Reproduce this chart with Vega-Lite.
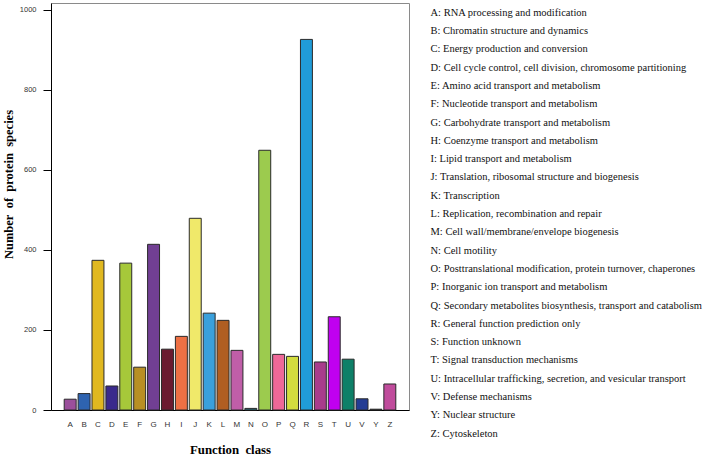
{
  "$schema": "https://vega.github.io/schema/vega-lite/v6.json",
  "autosize": {"type": "none"},
  "padding": {"left": 51, "top": 3, "right": 299, "bottom": 45},
  "width": 358,
  "height": 407,
  "background": "white",
  "config": {
    "view": {"stroke": "#8a8a8a", "strokeWidth": 1},
    "axis": {"grid": false}
  },
  "data": {
    "values": [
      {"cls": "A", "desc": "A: RNA processing and modification", "n": 27},
      {"cls": "B", "desc": "B: Chromatin structure and dynamics", "n": 41},
      {"cls": "C", "desc": "C: Energy production and conversion", "n": 374},
      {"cls": "D", "desc": "D: Cell cycle control, cell division, chromosome partitioning", "n": 60},
      {"cls": "E", "desc": "E: Amino acid transport and metabolism", "n": 367},
      {"cls": "F", "desc": "F: Nucleotide transport and metabolism", "n": 107},
      {"cls": "G", "desc": "G: Carbohydrate transport and metabolism", "n": 414},
      {"cls": "H", "desc": "H: Coenzyme transport and metabolism", "n": 152},
      {"cls": "I", "desc": "I: Lipid transport and metabolism", "n": 184},
      {"cls": "J", "desc": "J: Translation, ribosomal structure and biogenesis", "n": 479},
      {"cls": "K", "desc": "K: Transcription", "n": 242},
      {"cls": "L", "desc": "L: Replication, recombination and repair", "n": 224},
      {"cls": "M", "desc": "M: Cell wall/membrane/envelope biogenesis", "n": 149},
      {"cls": "N", "desc": "N: Cell motility", "n": 4},
      {"cls": "O", "desc": "O: Posttranslational modification, protein turnover, chaperones", "n": 649},
      {"cls": "P", "desc": "P: Inorganic ion transport and metabolism", "n": 139},
      {"cls": "Q", "desc": "Q: Secondary metabolites biosynthesis, transport and catabolism", "n": 134},
      {"cls": "R", "desc": "R: General function prediction only", "n": 926},
      {"cls": "S", "desc": "S: Function unknown", "n": 120},
      {"cls": "T", "desc": "T: Signal transduction mechanisms", "n": 233},
      {"cls": "U", "desc": "U: Intracellular trafficking, secretion, and vesicular transport", "n": 127},
      {"cls": "V", "desc": "V: Defense mechanisms", "n": 28},
      {"cls": "Y", "desc": "Y: Nuclear structure", "n": 2},
      {"cls": "Z", "desc": "Z: Cytoskeleton", "n": 65}
    ]
  },
  "mark": {"type": "bar", "stroke": "#2a2a2a", "strokeWidth": 1, "opacity": 1},
  "encoding": {
    "x": {
      "field": "cls", "type": "nominal", "sort": null,
      "scale": {"paddingInner": 0.14, "paddingOuter": 0.95},
      "axis": {
        "title": "Function\u00a0 class",
        "titleFont": "Liberation Serif", "titleFontSize": 12.8, "titleFontWeight": "bold", "titleColor": "#000",
        "titlePadding": 15,
        "labelAngle": 0, "labelFont": "Liberation Sans", "labelFontSize": 8, "labelColor": "#333",
        "labelPadding": 10, "ticks": false,
        "domainColor": "#000", "domainWidth": 1
      }
    },
    "y": {
      "field": "n", "type": "quantitative",
      "scale": {"domain": [0, 1017], "nice": false},
      "axis": {
        "title": "Number\u00a0 of\u00a0 protein\u00a0 species",
        "titleFont": "Liberation Serif", "titleFontSize": 12.5, "titleFontWeight": "bold", "titleColor": "#000",
        "titlePadding": 4, "titleY": 181,
        "values": [0, 200, 400, 600, 800, 1000], "format": "d",
        "labelFont": "Liberation Sans", "labelFontSize": 7.5, "labelColor": "#333",
        "labelPadding": 7, "tickSize": 8, "tickColor": "#000",
        "domainColor": "#000", "domainWidth": 1
      }
    },
    "color": {
      "field": "desc", "type": "nominal", "sort": null,
      "scale": {
        "range": ["#9b4f9c", "#2e63b0", "#e0b820", "#3a2a8c", "#a6c83a", "#b88f24", "#713f93", "#6b1a30", "#ee7044", "#f0e96a", "#3aa0dc", "#b05e22", "#c05ea8", "#2a7a8a", "#9ccb4e", "#ee6898", "#d2dc3e", "#209cd8", "#a83c8c", "#c000f0", "#0e8068", "#233c94", "#303030", "#c04c9c"]
      },
      "legend": {
        "title": null,
        "orient": "none", "legendX": 369, "legendY": 4.5,
        "padding": 0,
        "symbolSize": 0, "symbolOpacity": 0, "symbolStrokeWidth": 0, "labelOffset": 0,
        "labelFont": "Liberation Serif", "labelFontSize": 10.5, "labelColor": "#111",
        "labelLimit": 400, "rowPadding": 7.3
      }
    }
  }
}
